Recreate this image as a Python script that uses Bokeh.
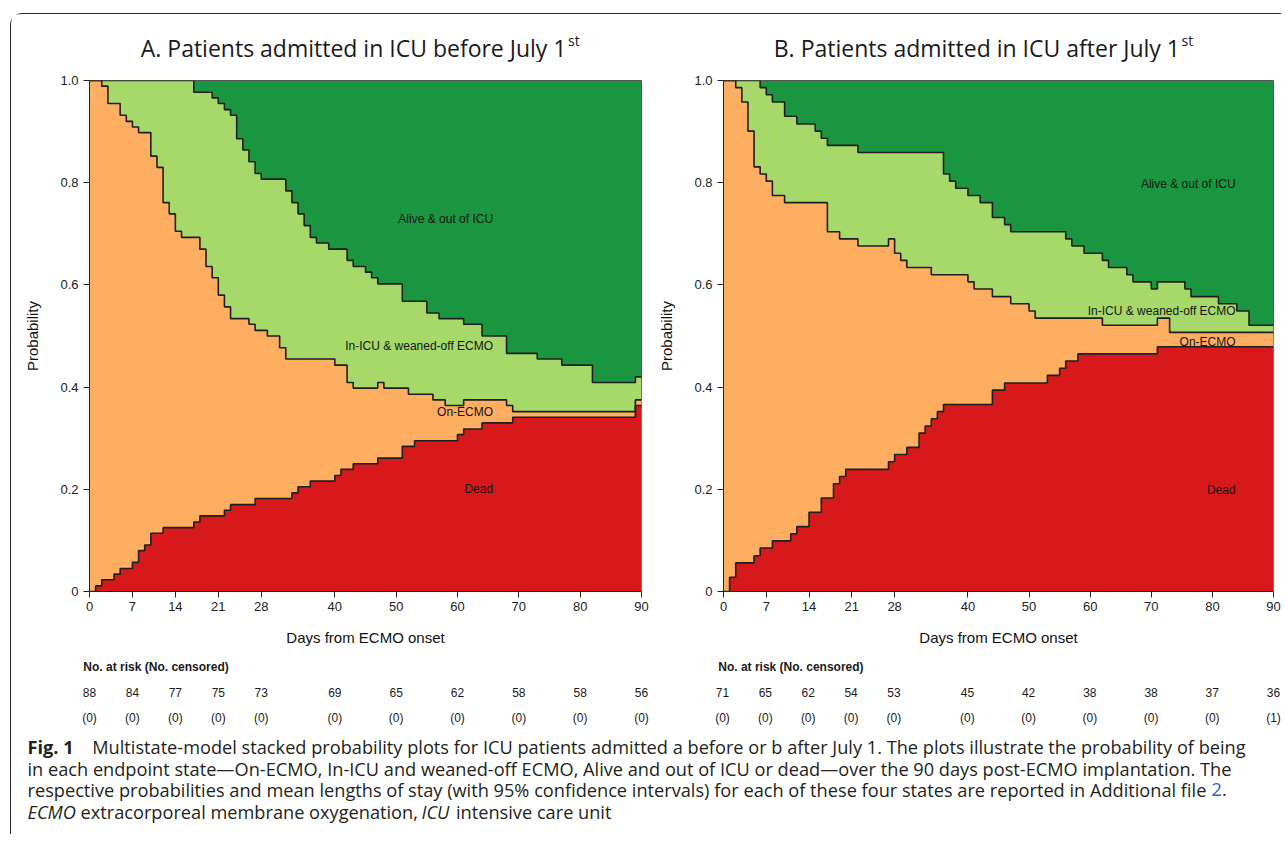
from bokeh.plotting import figure
from bokeh.models import Range1d, FixedTicker, ColumnDataSource
from bokeh.layouts import column, row
from bokeh.embed import file_html
from bokeh.resources import INLINE
from bokeh.core.properties import value

# ---------------- data ----------------
x_ticks = [0, 7, 14, 21, 28, 40, 50, 60, 70, 80, 90]
y_ticks = [0.0, 0.2, 0.4, 0.6, 0.8, 1.0]
y_tick_labels = ["0", "0.2", "0.4", "0.6", "0.8", "1.0"]

# Panel A (admitted before July 1st): stacked boundaries, step after each day
a_dead_days = [0, 1, 2, 4, 5, 7, 8, 9, 10, 12, 17, 18, 22, 23, 27, 33, 34, 36, 40, 41,
               43, 47, 51, 53, 60, 61, 64, 69, 89, 90]
a_dead = [0.000, 0.011, 0.023, 0.034, 0.045, 0.057, 0.080, 0.091, 0.114, 0.125,
          0.136, 0.148, 0.159, 0.170, 0.182, 0.193, 0.205, 0.216, 0.227, 0.239,
          0.250, 0.261, 0.284, 0.295, 0.307, 0.318, 0.330, 0.341, 0.364, 0.364]
a_ecmo_top_days = [0, 2, 3, 5, 6, 7, 8, 10, 11, 12, 13, 14, 15, 18, 19, 20, 21, 22, 23, 26,
                   27, 29, 31, 32, 40, 42, 43, 47, 48, 52, 56, 58, 61, 68, 69, 89, 90]
a_ecmo_top = [1.000, 0.989, 0.955, 0.932, 0.920, 0.909, 0.898, 0.852, 0.830, 0.761,
              0.739, 0.705, 0.693, 0.670, 0.636, 0.614, 0.580, 0.557, 0.534, 0.523,
              0.511, 0.500, 0.477, 0.455, 0.443, 0.409, 0.398, 0.409, 0.398, 0.386,
              0.375, 0.364, 0.375, 0.364, 0.352, 0.375, 0.375]
a_weaned_top_days = [0, 17, 20, 21, 22, 23, 24, 25, 26, 27, 28, 32, 33, 34, 35, 36, 37, 39,
                     42, 43, 45, 46, 47, 51, 55, 57, 61, 64, 68, 73, 77, 82, 89, 90]
a_weaned_top = [1.000, 0.977, 0.966, 0.955, 0.943, 0.932, 0.886, 0.864, 0.841, 0.818,
                0.807, 0.784, 0.761, 0.739, 0.716, 0.693, 0.682, 0.670, 0.648, 0.636,
                0.625, 0.614, 0.602, 0.568, 0.545, 0.534, 0.523, 0.500, 0.466, 0.455,
                0.443, 0.409, 0.420, 0.420]

# Panel B (admitted after July 1st)
b_dead_days = [0, 1, 2, 5, 6, 8, 11, 12, 14, 16, 18, 19, 20, 27, 28, 30, 32, 33, 34, 35,
               36, 44, 46, 53, 55, 56, 58, 71, 90]
b_dead = [0.000, 0.028, 0.056, 0.070, 0.085, 0.099, 0.113, 0.127, 0.155, 0.183,
          0.211, 0.225, 0.239, 0.254, 0.268, 0.282, 0.310, 0.324, 0.338, 0.352,
          0.366, 0.394, 0.408, 0.423, 0.437, 0.451, 0.465, 0.479, 0.479]
b_ecmo_top_days = [0, 2, 3, 4, 5, 6, 7, 8, 10, 17, 19, 22, 27, 28, 29, 30, 34, 40, 41, 44,
                   47, 50, 51, 62, 71, 73, 90]
b_ecmo_top = [1.000, 0.986, 0.958, 0.901, 0.831, 0.817, 0.803, 0.775, 0.761, 0.704,
              0.690, 0.676, 0.690, 0.662, 0.648, 0.634, 0.620, 0.606, 0.592, 0.577,
              0.563, 0.549, 0.535, 0.521, 0.535, 0.507, 0.507]
b_weaned_top_days = [0, 6, 7, 8, 10, 12, 15, 16, 17, 22, 36, 37, 38, 40, 42, 44, 46, 47,
                     56, 57, 59, 62, 63, 66, 67, 70, 71, 75.5, 76.5, 81, 84, 86, 90]
b_weaned_top = [1.000, 0.986, 0.972, 0.958, 0.930, 0.915, 0.901, 0.887, 0.873, 0.859,
                0.817, 0.803, 0.789, 0.775, 0.761, 0.732, 0.718, 0.704, 0.690, 0.676,
                0.662, 0.648, 0.634, 0.620, 0.606, 0.592, 0.606, 0.592, 0.577, 0.563,
                0.549, 0.521, 0.521]

# state labels (right-aligned at a day position)
state_labels = ["Alive & out of ICU", "In-ICU & weaned-off ECMO", "On-ECMO", "Dead"]
a_label_day = 65.8
a_label_y = [0.729, 0.481, 0.351, 0.200]
b_label_day = 83.8
b_label_y = [0.798, 0.548, 0.488, 0.199]

# risk table
risk_days = [0, 7, 14, 21, 28, 40, 50, 60, 70, 80, 90]
a_at_risk = [88, 84, 77, 75, 73, 69, 65, 62, 58, 58, 56]
a_censored = [0, 0, 0, 0, 0, 0, 0, 0, 0, 0, 0]
b_at_risk = [71, 65, 62, 54, 53, 45, 42, 38, 38, 37, 36]
b_censored = [0, 0, 0, 0, 0, 0, 0, 0, 0, 0, 1]

title_a = "A. Patients admitted in ICU before July 1"
title_b = "B. Patients admitted in ICU after July 1"
title_sup = "st"

caption_line1 = ("Multistate-model stacked probability plots for ICU patients admitted a before "
                 "or b after July 1. The plots illustrate the probability of being")
caption_line2 = ("in each endpoint state\u2014On-ECMO, In-ICU and weaned-off ECMO, Alive and out of "
                 "ICU or dead\u2014over the 90 days post-ECMO implantation. The")
caption_line3 = ("respective probabilities and mean lengths of stay (with 95% confidence intervals) "
                 "for each of these four states are reported in Additional file")

# ---------------- style / geometry ----------------
DEAD_C, ECMO_C, WEANED_C, ALIVE_C = "#d7191c", "#fdae61", "#a6d96a", "#1a9641"
LINE_C = "#1e1e1e"
CHART_FONT = "Liberation Sans"
CAP_FONT = "Open Sans"
CAP_SIZE = "18.2px"

TOTAL_W = 1270
HEADER_H, PANEL_H, RISK_H, CAP_H = 48, 590, 76, 106
BT, BB = 18, 61
A_W, A_BL, A_FW = 644, 78, 552
B_W, B_BL, B_FW = 626, 67, 551


def bare_fig(w, h, xr, yr):
    f = figure(width=w, height=h, x_range=xr, y_range=yr, x_axis_type=None, y_axis_type=None,
               toolbar_location=None, output_backend="svg", min_border=0, title=None)
    f.outline_line_color = None
    return f


# header with titles
header = bare_fig(TOTAL_W, HEADER_H, Range1d(0, TOTAL_W), Range1d(HEADER_H, 0))
header.text(x=[555, 1168.5], y=[33, 33], text=[title_a, title_b], text_align="right",
            text_baseline="alphabetic", text_font=value(CAP_FONT), text_font_size="23px",
            text_color="#1a1a1a")
header.text(x=[556.5, 1170], y=[25.5, 25.5], text=[title_sup, title_sup], text_align="left",
            text_baseline="alphabetic", text_font=value(CAP_FONT), text_font_size="14px",
            text_color="#1a1a1a")


def make_panel(w, bl, fw, dead_d, dead, ecmo_d, ecmo, wean_d, wean, lab_day, lab_y):
    p = figure(width=w, height=PANEL_H, x_range=Range1d(0, 90), y_range=Range1d(0, 1),
               min_border_left=bl, min_border_right=w - bl - fw, min_border_top=BT,
               min_border_bottom=BB, toolbar_location=None, output_backend="svg", title=None)
    p.background_fill_color = ALIVE_C
    p.outline_line_color = "#555555"
    p.outline_line_width = 1
    p.grid.visible = False
    p.varea_step(x=wean_d, y1=0, y2=wean, step_mode="after", fill_color=WEANED_C)
    p.varea_step(x=ecmo_d, y1=0, y2=ecmo, step_mode="after", fill_color=ECMO_C)
    p.varea_step(x=dead_d, y1=0, y2=dead, step_mode="after", fill_color=DEAD_C)
    for xs, ys in ((wean_d, wean), (ecmo_d, ecmo), (dead_d, dead)):
        p.step(x=xs, y=ys, mode="after", line_color=LINE_C, line_width=1.6)
    p.text(x=[lab_day] * len(state_labels), y=lab_y, text=state_labels, text_align="right",
           text_baseline="middle", text_font=value(CHART_FONT), text_font_size="12px",
           text_color="#141414")
    p.xaxis.ticker = FixedTicker(ticks=x_ticks)
    p.yaxis.ticker = FixedTicker(ticks=y_ticks)
    p.yaxis.major_label_overrides = {t: s for t, s in zip(y_ticks, y_tick_labels)}
    p.xaxis.axis_label = "Days from ECMO onset"
    p.yaxis.axis_label = "Probability"
    for ax in (p.xaxis[0], p.yaxis[0]):
        ax.major_label_text_font = CHART_FONT
        ax.major_label_text_font_size = "13px"
        ax.major_label_text_color = "#222222"
        ax.axis_label_text_font = CHART_FONT
        ax.axis_label_text_font_size = "15px"
        ax.axis_label_text_font_style = "normal"
        ax.axis_label_text_color = "#111111"
        ax.major_tick_out = 6
        ax.major_tick_in = 0
        ax.minor_tick_out = 0
        ax.minor_tick_in = 0
        ax.axis_line_color = "#222222"
        ax.major_tick_line_color = "#222222"
    p.xaxis.major_label_standoff = 4
    p.xaxis.axis_label_standoff = 15
    p.yaxis.major_label_standoff = 5
    p.yaxis.axis_label_standoff = 16
    return p


pA = make_panel(A_W, A_BL, A_FW, a_dead_days, a_dead, a_ecmo_top_days, a_ecmo_top,
                a_weaned_top_days, a_weaned_top, a_label_day, a_label_y)
pB = make_panel(B_W, B_BL, B_FW, b_dead_days, b_dead, b_ecmo_top_days, b_ecmo_top,
                b_weaned_top_days, b_weaned_top, b_label_day, b_label_y)

RISK_ROWS = [14.7, 40.3, 65.3]


def make_risk(w, bl, fw, at_risk, censored, header_day):
    ppd = fw / 90.0
    r = bare_fig(w, RISK_H, Range1d(-bl / ppd, (w - bl) / ppd), Range1d(RISK_H, 0))
    r.text(x=[header_day], y=[RISK_ROWS[0]], text=["No. at risk (No. censored)"],
           text_align="left", text_baseline="middle", text_font=value(CHART_FONT),
           text_font_size="12px", text_font_style="bold", text_color="#1a1a1a")
    src = ColumnDataSource(dict(day=risk_days, n=[str(v) for v in at_risk],
                                c=["(%d)" % v for v in censored]))
    for col, yy in (("n", RISK_ROWS[1]), ("c", RISK_ROWS[2])):
        r.text(x="day", y=yy, text=col, source=src, text_align="center", text_baseline="middle",
               text_font=value(CHART_FONT), text_font_size="12px", text_color="#1a1a1a")
    return r


rA = make_risk(A_W, A_BL, A_FW, a_at_risk, a_censored, -1.0)
rB = make_risk(B_W, B_BL, B_FW, b_at_risk, b_censored, -0.7)

# caption
cap = bare_fig(TOTAL_W, CAP_H, Range1d(0, TOTAL_W), Range1d(CAP_H, 0))
CY = [18.7, 40.3, 61.3, 83.7]
common = dict(text_baseline="middle", text_align="left", text_font=value(CAP_FONT),
              text_font_size=CAP_SIZE)
cap.text(x=[16], y=[CY[0]], text=["Fig. 1"], text_font_style="bold", text_color="#231f20", **common)
cap.text(x=[80.7, 16, 16], y=[CY[0], CY[1], CY[2]], text=[caption_line1, caption_line2, caption_line3],
         text_color="#231f20", **common)
cap.text(x=[1200], y=[CY[2]], text=["2"], text_color="#2f5fc4", **common)
cap.text(x=[1210.5], y=[CY[2]], text=["."], text_color="#231f20", **common)
cap.text(x=[16, 410], y=[CY[3], CY[3]], text=["ECMO", "ICU"], text_font_style="italic",
         text_color="#231f20", **common)
cap.text(x=[69, 444.5], y=[CY[3], CY[3]], text=["extracorporeal membrane oxygenation,", "intensive care unit"],
         text_color="#231f20", **common)

root = column(header, row(pA, pB), row(rA, rB), cap,
              styles={"position": "relative", "left": "10px", "top": "13px",
                      "border-top": "1px solid #2a2a2a", "border-left": "1px solid #2a2a2a",
                      "border-top-left-radius": "12px"})

open("out.html", "w").write(file_html(root, INLINE))
